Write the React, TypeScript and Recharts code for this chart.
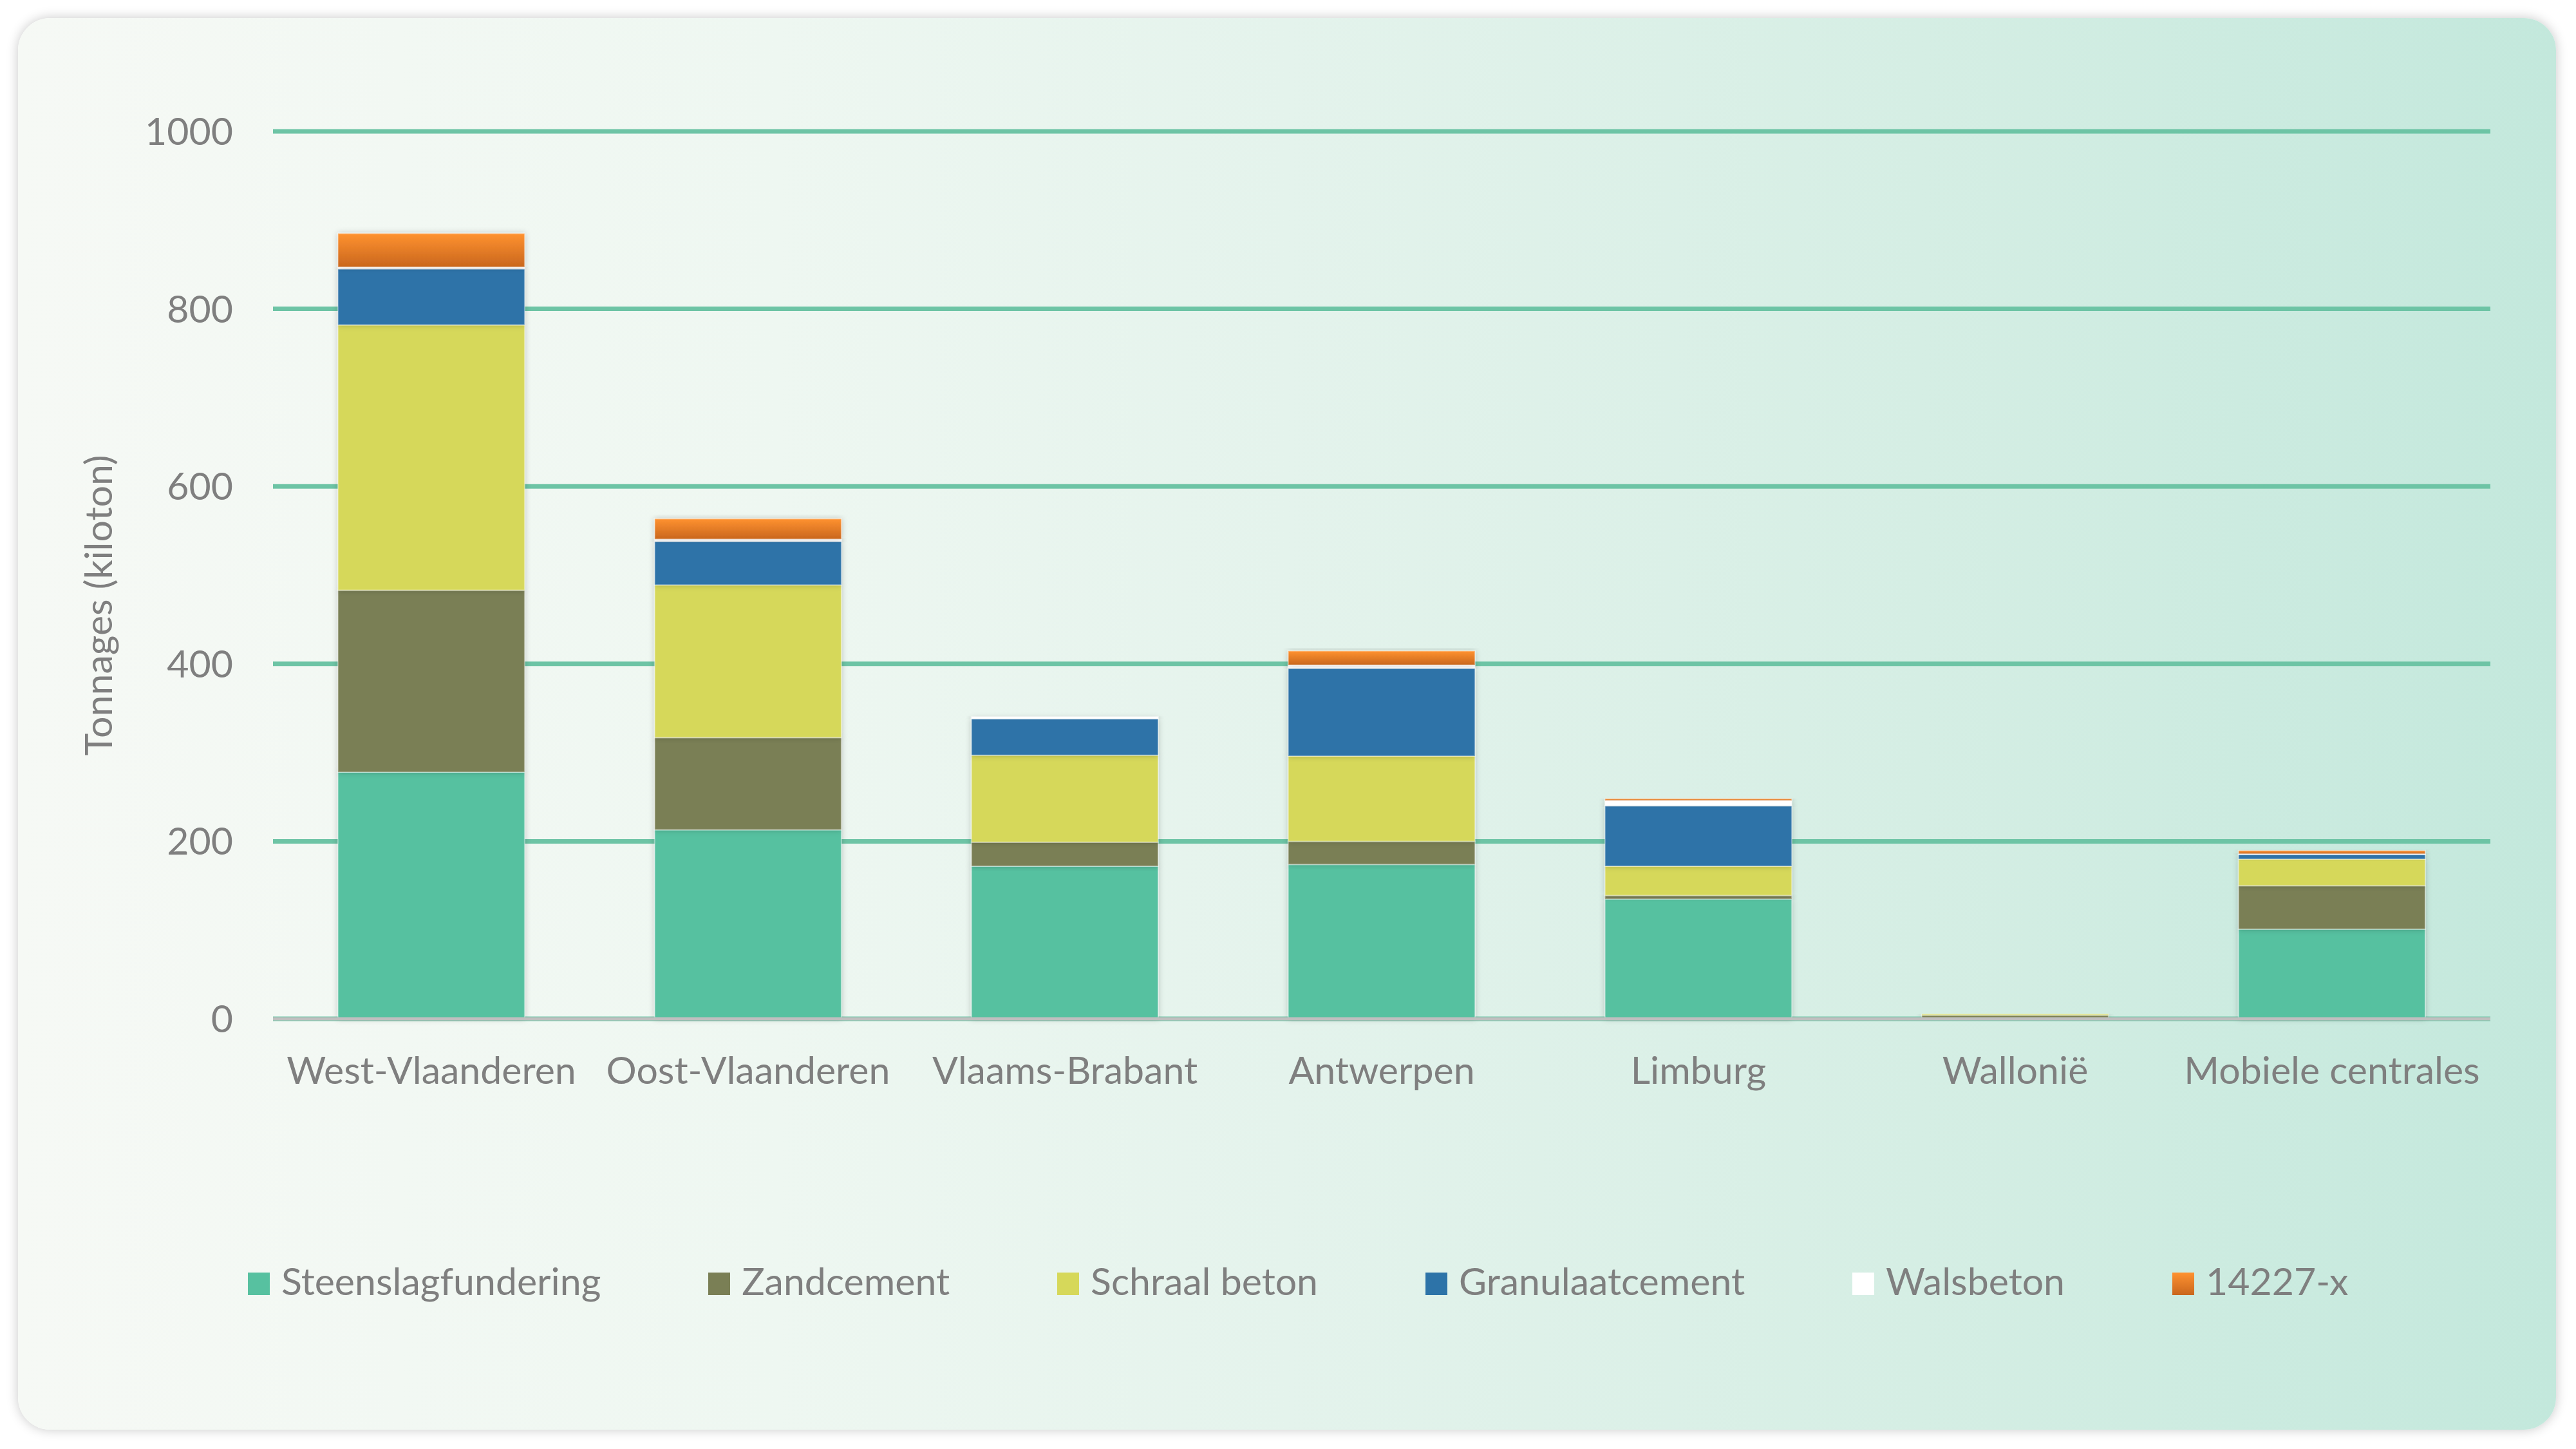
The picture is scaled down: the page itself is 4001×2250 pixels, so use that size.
import React from 'react';
import { BarChart, Bar, XAxis, YAxis, CartesianGrid } from 'recharts';

const categories = ['West-Vlaanderen', 'Oost-Vlaanderen', 'Vlaams-Brabant', 'Antwerpen', 'Limburg', 'Wallonië', 'Mobiele centrales'];
const steenslagfundering = [278, 213, 172, 174, 135, 0, 101];
const zandcement = [205, 104, 27, 26, 4, 4, 49];
const schraalBeton = [299, 172, 98, 96, 33, 1.5, 30];
const granulaatcement = [63, 49, 41, 99, 68, 0, 5];
const walsbeton = [2, 2.5, 2.5, 3.5, 6, 0, 1];
const x14227 = [38, 23, 0, 16, 2, 0, 3.5];
const yTicks = [0, 200, 400, 600, 800, 1000];

const seriesNames = ['Steenslagfundering', 'Zandcement', 'Schraal beton', 'Granulaatcement', 'Walsbeton', '14227-x'];
const seriesKeys = ['steen', 'zand', 'schraal', 'gran', 'wals', 'x14227'];
const seriesFills = ['#57c1a0', '#7a7f55', '#d6d85a', '#2d73a8', '#ffffff', 'url(#orangeGrad)'];
const legendFills = ['#57c1a0', '#7a7f55', '#d6d85a', '#2d73a8', '#ffffff', 'linear-gradient(to bottom, #ff9230, #c9661d)'];

const data = categories.map((c, i) => ({
  name: c,
  steen: steenslagfundering[i],
  zand: zandcement[i],
  schraal: schraalBeton[i],
  gran: granulaatcement[i],
  wals: walsbeton[i],
  x14227: x14227[i],
}));

const FONT = 'Lato, "Open Sans", sans-serif';
const TEXT = '#7f7f7f';
const FS = 59;

const XTick = (props: any) => {
  const { x, y, payload } = props;
  return (
    <text x={x} y={y + 101} textAnchor="middle" fill={TEXT} fontSize={FS} fontFamily={FONT}>
      {payload.value}
    </text>
  );
};

const YTick = (props: any) => {
  const { x, y, payload } = props;
  return (
    <text x={x} y={y + 21} textAnchor="end" fill={TEXT} fontSize={FS} fontFamily={FONT}>
      {payload.value}
    </text>
  );
};

export default function App() {
  return (
    <div style={{ position: 'absolute', left: 0, top: 0, width: 4001, height: 2250, background: '#ffffff', overflow: 'hidden' }}>
      <div
        style={{
          position: 'absolute',
          left: 28,
          top: 28,
          width: 3942,
          height: 2192,
          borderRadius: 50,
          background: 'linear-gradient(to right, #f6f9f5 0%, #eef7f1 30%, #e4f3ec 50%, #d5eee4 75%, #c3e8dc 100%)',
          boxShadow: '0 0 18px rgba(0,0,0,0.22)',
        }}
      />
      <div style={{ position: 'absolute', left: 0, top: 0 }}>
        <BarChart
          width={4001}
          height={2250}
          data={data}
          margin={{ left: 224, right: 133, top: 204, bottom: 548 }}
          barCategoryGap="20.5%"
        >
          <defs>
            <linearGradient id="orangeGrad" x1="0" y1="0" x2="0" y2="1">
              <stop offset="0%" stopColor="#ff9230" />
              <stop offset="100%" stopColor="#c9661d" />
            </linearGradient>
            <filter id="barShadow" x="-20%" y="-20%" width="140%" height="140%">
              <feDropShadow dx="0" dy="0" stdDeviation="5" floodColor="#000000" floodOpacity="0.22" />
            </filter>
          </defs>
          <CartesianGrid vertical={false} stroke="#6dc4a5" strokeWidth={7} />
          <XAxis
            dataKey="name"
            height={120}
            tickSize={0}
            tickMargin={0}
            tickLine={false}
            axisLine={{ stroke: '#bfbfbf', strokeWidth: 5 }}
            tick={<XTick />}
            interval={0}
          />
          <YAxis
            width={200}
            domain={[0, 1000]}
            ticks={yTicks}
            tickSize={0}
            tickMargin={62}
            tickLine={false}
            axisLine={false}
            tick={<YTick />}
          />
          {seriesKeys.map((k, i) => (
            <Bar
              key={k}
              dataKey={k}
              name={seriesNames[i]}
              stackId="a"
              fill={seriesFills[i]}
              stroke="rgba(255,255,255,0.35)"
              strokeWidth={2}
              filter="url(#barShadow)"
              isAnimationActive={false}
            />
          ))}
        </BarChart>
      </div>
      <svg style={{ position: 'absolute', left: 0, top: 0 }} width={400} height={2250}>
        <text
          x={174}
          y={940}
          transform="rotate(-90, 174, 940)"
          textAnchor="middle"
          fill={TEXT}
          fontSize={FS}
          fontFamily={FONT}
        >
          Tonnages (kiloton)
        </text>
      </svg>
      <div
        style={{
          position: 'absolute',
          left: 385,
          top: 1953,
          display: 'flex',
          alignItems: 'baseline',
          gap: 167,
          fontFamily: FONT,
          fontSize: FS,
          color: TEXT,
          whiteSpace: 'nowrap',
        }}
      >
        {seriesNames.map((n, i) => (
          <div key={n} style={{ display: 'flex', alignItems: 'baseline' }}>
            <span
              style={{
                display: 'inline-block',
                width: 34,
                height: 35,
                background: legendFills[i],
                marginRight: 18,
              }}
            />
            <span>{n}</span>
          </div>
        ))}
      </div>
    </div>
  );
}
